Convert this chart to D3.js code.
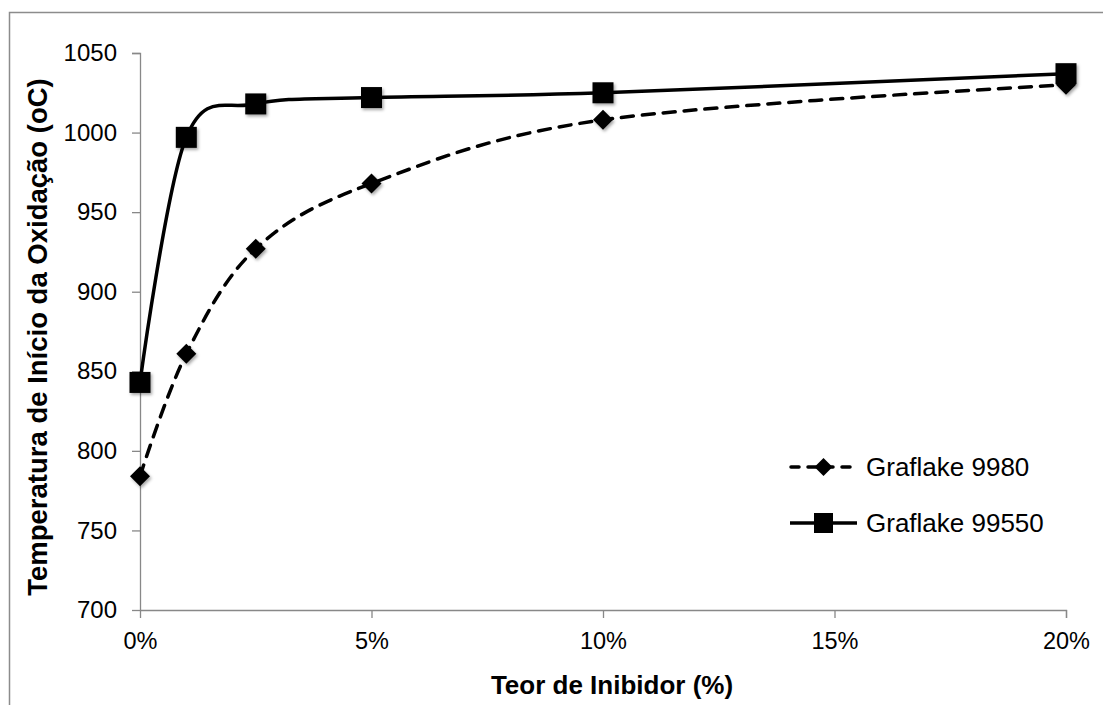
<!DOCTYPE html>
<html><head><meta charset="utf-8">
<script src="https://cdn.jsdelivr.net/npm/d3@7"></script>
<style>body{margin:0;background:#fff}svg{display:block}text{font-family:"Liberation Sans",Arial,sans-serif}</style>
</head><body>
<svg id="c" width="1103" height="705"></svg>
<script>
const xValues = [0, 1, 2.5, 5, 10, 20];
const series9980 = [784, 861, 927, 968, 1008, 1030];
const series99550 = [843, 997, 1018, 1022, 1025, 1037];
const seriesNames = ["Graflake 9980", "Graflake 99550"];
const xTicks = [0, 5, 10, 15, 20];
const yTicks = [700, 750, 800, 850, 900, 950, 1000, 1050];
const xTitle = "Teor de Inibidor (%)";
const yTitle = "Temperatura de Início da Oxidação (oC)";

const svg = d3.select("#c");
const defs = svg.append("defs");
const f = defs.append("filter").attr("id","sh").attr("x","-50%").attr("y","-50%").attr("width","200%").attr("height","200%");
f.append("feDropShadow").attr("dx",1.5).attr("dy",2).attr("stdDeviation",1.8).attr("flood-color","#000").attr("flood-opacity",0.35);

svg.append("rect").attr("x",9.5).attr("y",12.5).attr("width",1120).attr("height",720)
  .attr("fill","none").attr("stroke","#8c8c8c").attr("stroke-width",1.5);

const x = d3.scaleLinear().domain([0,20]).range([140,1066]);
const y = d3.scaleLinear().domain([700,1050]).range([610,53]);

const yAxis = svg.append("g").attr("transform","translate(140,0)")
  .call(d3.axisLeft(y).tickValues(yTicks).tickSize(8).tickPadding(15).tickFormat(d3.format("d")));
yAxis.select(".domain").attr("stroke","#888").attr("stroke-width",1.3).attr("d","M-8,53.5H0.5V610.5");
yAxis.selectAll(".tick line").attr("stroke","#888").attr("stroke-width",1.3);
yAxis.selectAll("text").attr("font-size",24).attr("fill","#000");

const xAxis = svg.append("g").attr("transform","translate(0,610)")
  .call(d3.axisBottom(x).tickValues(xTicks).tickSize(8).tickPadding(14).tickFormat(d => d + "%"));
xAxis.select(".domain").attr("stroke","#888").attr("stroke-width",1.3).attr("d","M140,0.5H1066.5V8");
xAxis.selectAll(".tick line").attr("stroke","#888").attr("stroke-width",1.3);
xAxis.selectAll("text").attr("font-size",23.5).attr("fill","#000");

svg.append("text").attr("x",612).attr("y",694).attr("text-anchor","middle")
  .attr("font-size",26).attr("font-weight","bold").text(xTitle);
svg.append("text").attr("transform","translate(47,337) rotate(-90)").attr("text-anchor","middle")
  .attr("font-size",27.5).attr("font-weight","bold").text(yTitle);

const line = d3.line().x(d=>x(d[0])).y(d=>y(d[1])).curve(d3.curveCatmullRom.alpha(0));
const d1 = xValues.map((v,i)=>[v,series9980[i]]);
const d2 = xValues.map((v,i)=>[v,series99550[i]]);

svg.append("path").datum(d1).attr("d",line).attr("fill","none").attr("stroke","#000")
  .attr("stroke-width",3.5).attr("stroke-dasharray","12,9").attr("stroke-linecap","round");
svg.append("path").datum(d2).attr("d",line).attr("fill","none").attr("stroke","#000")
  .attr("stroke-width",3.5);

const diamond = (cx,cy,r)=>`M${cx},${cy-r}L${cx+r},${cy}L${cx},${cy+r}L${cx-r},${cy}Z`;
svg.append("g").attr("filter","url(#sh)").selectAll("path").data(d1).join("path")
  .attr("d",d=>diamond(x(d[0]),y(d[1]),10)).attr("fill","#000");
svg.append("g").attr("filter","url(#sh)").selectAll("rect").data(d2).join("rect")
  .attr("x",d=>x(d[0])-10.5).attr("y",d=>y(d[1])-10.5).attr("width",21).attr("height",21).attr("fill","#000");

// legend
const lg = svg.append("g");
const ly = [467, 523];
lg.append("line").attr("x1",791).attr("x2",856).attr("y1",ly[0]).attr("y2",ly[0])
  .attr("stroke","#000").attr("stroke-width",3.5).attr("stroke-dasharray","8,9").attr("stroke-linecap","round");
lg.append("path").attr("d",diamond(823.5,ly[0],9)).attr("fill","#000");
lg.append("line").attr("x1",790).attr("x2",857).attr("y1",ly[1]).attr("y2",ly[1])
  .attr("stroke","#000").attr("stroke-width",3.5);
lg.append("rect").attr("x",814).attr("y",ly[1]-10).attr("width",19).attr("height",20).attr("fill","#000");
lg.selectAll("text").data(seriesNames).join("text").attr("x",866).attr("y",(d,i)=>ly[i]+9)
  .attr("font-size",26).text(d=>d);
</script>
</body></html>
